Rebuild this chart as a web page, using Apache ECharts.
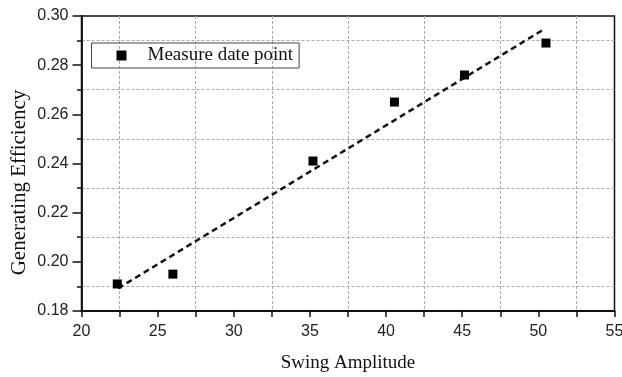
<!DOCTYPE html>
<html>
<head>
<meta charset="utf-8">
<script src="https://cdn.jsdelivr.net/npm/echarts@6/dist/echarts.min.js"></script>
<style>
html,body{margin:0;padding:0;background:#fff;}
#chart{width:622px;height:377px;}
</style>
</head>
<body>
<div id="chart"></div>
<script>
// Measured data points
const swingAmplitude = [22.35, 26.0, 35.2, 40.55, 45.15, 50.5];
const efficiency = [0.191, 0.195, 0.241, 0.265, 0.276, 0.289];
// Linear fit line endpoints
const fitX = [22.4, 50.45];
const fitY = [0.1892, 0.2949];
const seriesName = 'Measure date point';
const xTitle = 'Swing Amplitude';
const yTitle = 'Generating Efficiency';

const chart = echarts.init(document.getElementById('chart'));
const points = swingAmplitude.map((x, i) => [x, efficiency[i]]);
const fit = fitX.map((x, i) => [x, fitY[i]]);

const sansFont = '"Liberation Sans", Arial, sans-serif';
const serifFont = '"Liberation Serif", "Times New Roman", serif';

chart.setOption({
  animation: false,
  backgroundColor: '#fff',
  grid: {
    left: 81.5, right: 7.5, top: 16, bottom: 66,
    outerBoundsMode: 'none', containLabel: false,
    show: true, borderColor: '#111', borderWidth: 1.5, backgroundColor: 'transparent'
  },
  legend: {
    left: 91.5, top: 43,
    data: [{name: seriesName, icon: 'rect', itemStyle: {color: '#000', opacity: 1}}],
    itemWidth: 10, itemHeight: 10,
    padding: [3, 6, 3, 25],
    borderColor: '#444', borderWidth: 1,
    textStyle: {fontFamily: serifFont, fontSize: 19, color: '#111', padding: [0, 0, 0, 16]}
  },
  xAxis: {
    type: 'value', min: 20, max: 55, interval: 5,
    name: xTitle, nameLocation: 'middle', nameGap: 43,
    nameTextStyle: {fontFamily: serifFont, fontSize: 19, color: '#111'},
    axisLine: {show: true, onZero: false, lineStyle: {color: '#111', width: 1.8}},
    axisTick: {show: true, inside: false, length: 6, lineStyle: {color: '#111', width: 1.5}},
    minorTick: {show: true, splitNumber: 2, length: 6, lineStyle: {color: '#111', width: 1.5}},
    axisLabel: {fontFamily: sansFont, fontSize: 16, color: '#222', margin: 13, hideOverlap: false},
    splitLine: {show: false},
    minorSplitLine: {show: true, lineStyle: {color: '#aaa', width: 1, type: [3, 2]}}
  },
  yAxis: {
    type: 'value', min: 0.18, max: 0.30, interval: 0.02,
    axisLine: {show: true, onZero: false, lineStyle: {color: '#111', width: 1.8}},
    axisTick: {show: true, inside: false, length: 9, lineStyle: {color: '#111', width: 1.5}},
    minorTick: {show: true, splitNumber: 2, length: 4.5, lineStyle: {color: '#111', width: 1.5}},
    axisLabel: {fontFamily: sansFont, fontSize: 16, color: '#222', margin: 13,
      formatter: v => v.toFixed(2)},
    splitLine: {show: false},
    minorSplitLine: {show: true, lineStyle: {color: '#aaa', width: 1, type: [3, 2]}}
  },
  graphic: [{
    type: 'text', x: 19, y: 182.5, rotation: Math.PI / 2,
    style: {text: yTitle, font: '21px ' + serifFont, fill: '#111',
      textAlign: 'center', textVerticalAlign: 'middle'}
  }],
  series: [
    {
      name: 'fit', type: 'line', data: fit, symbol: 'none',
      lineStyle: {color: '#111', width: 2.5, type: [6, 4]}, z: 2
    },
    {
      name: seriesName, type: 'scatter', data: points,
      symbol: 'rect', symbolSize: 9,
      itemStyle: {color: '#000', opacity: 1}, z: 3
    }
  ]
});
</script>
</body>
</html>
